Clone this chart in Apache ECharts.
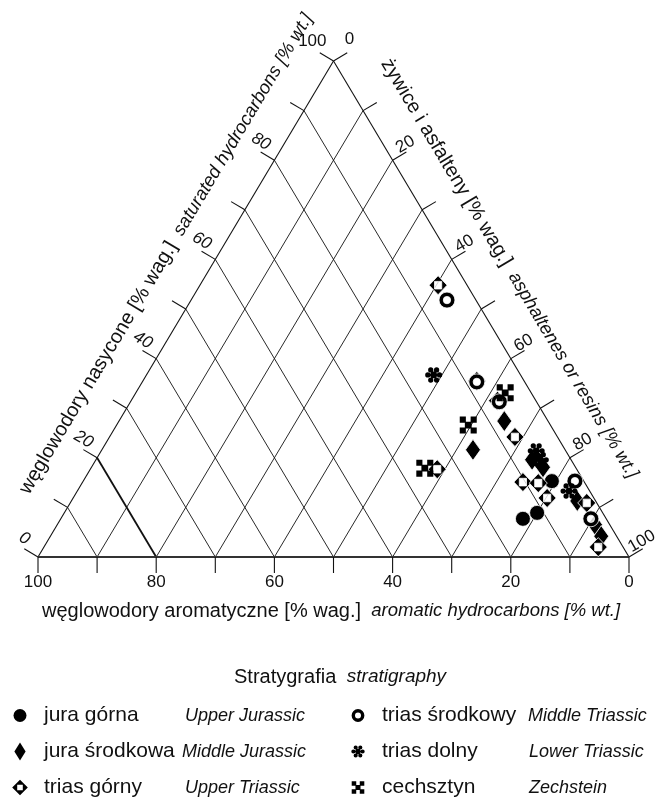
<!DOCTYPE html>
<html><head><meta charset="utf-8">
<script src="https://cdn.jsdelivr.net/npm/echarts@6.0.0/dist/echarts.min.js"></script>
<style>html,body{margin:0;padding:0;background:#fff;}#chart{width:655px;height:807px;}</style>
</head><body><div id="chart"></div>
<script>
// ---- data: each point = [aromatic, saturated, asphaltenes/resins] in % wt.
const juraGorna = [[14.1, 7.7, 78.2], [11.1, 8.9, 80.0], [5.4, 15.3, 79.3]];
const juraSrodkowa = [[7.4, 27.4, 65.2], [15.6, 21.6, 62.8], [6.6, 19.6, 73.8], [5.5, 18.1, 76.4], [3.1, 11.3, 85.6], [2.5, 6.5, 91.0], [2.6, 4.2, 93.2]];
const triasGorny = [[4.9, 54.8, 40.3], [8.0, 35.5, 56.5], [6.5, 31.5, 62.0], [7.2, 24.2, 68.6], [23.6, 17.7, 58.7], [10.4, 15.1, 74.5], [7.9, 14.9, 77.2], [7.9, 11.9, 80.2], [1.7, 10.9, 87.4], [4.2, 2.0, 93.8]];
const triasSrodkowy = [[4.9, 51.8, 43.3], [8.1, 35.3, 56.6], [6.3, 31.3, 62.4], [1.5, 15.3, 83.2], [2.6, 7.7, 89.7]];
const triasDolny = [[14.7, 36.7, 48.6], [5.0, 21.4, 73.6], [5.2, 19.6, 75.2], [3.5, 13.3, 83.2]];
const cechsztyn = [[4.4, 33.1, 62.5], [13.9, 26.6, 59.5], [25.6, 17.9, 56.5]];

const tickValues = [0, 10, 20, 30, 40, 50, 60, 70, 80, 90, 100];
const labelValues = [0, 20, 40, 60, 80, 100];
const gridValues = [10, 20, 30, 40, 50, 60, 70, 80, 90];

const legendLeftNames = ['jura górna', 'jura środkowa', 'trias górny'];
const legendRightNames = ['trias środkowy', 'trias dolny', 'cechsztyn'];
const english = {
  'jura górna': 'Upper Jurassic', 'jura środkowa': 'Middle Jurassic', 'trias górny': 'Upper Triassic',
  'trias środkowy': 'Middle Triassic', 'trias dolny': 'Lower Triassic', 'cechsztyn': 'Zechstein'
};

const FONT = '"Liberation Sans", Arial, Helvetica, sans-serif';
const INK = '#111';

// ternary -> cartesian (x: 0 at aromatic apex, 100 at resins apex; y: saturated)
function toXY(p) { return [p[2] + p[1] / 2, p[1], p[0], p[1], p[2]]; }

// ---- symbol shapes
function f2(v) { return +v.toFixed(2); }
function circ(cx, cy, r, sw) {
  cx = f2(cx); cy = f2(cy);
  return `M${f2(cx - r)} ${cy} A${r} ${r} 0 1 ${sw} ${f2(cx + r)} ${cy} A${r} ${r} 0 1 ${sw} ${f2(cx - r)} ${cy} Z `;
}
function rectP(x0, y0, x1, y1) { return `M${x0} ${y0} L${x1} ${y0} L${x1} ${y1} L${x0} ${y1} Z `; }
function ringPath(c, R, r) { return circ(c, c, R, 1) + circ(c, c, r, 0); }
function openDiamondPath(c, R, s) {
  return `M${c} ${c - R} L${c + R} ${c} L${c} ${c + R} L${c - R} ${c} Z ` +
         `M${c - s} ${c - s} L${c - s} ${c + s} L${c + s} ${c + s} L${c + s} ${c - s} Z `;
}
function asteriskPath(c, R) {
  // heavy asterisk: six rounded lobes joined by a centre disc (same winding -> union)
  let d = circ(c, c, f2(0.4 * R), 1);
  for (let k = 0; k < 6; k++) {
    const t = k * Math.PI / 3;
    d += circ(c + Math.cos(t) * 0.69 * R, c + Math.sin(t) * 0.69 * R, f2(0.31 * R), 1);
  }
  return d;
}
function checkerPath(c, R) {
  const a = c - R, b = c + R, k = 0.72 * R, m = 0.4 * R;
  return rectP(a, a, a + k, a + k) + rectP(b - k, a, b, a + k) + rectP(a, b - k, a + k, b) +
         rectP(b - k, b - k, b, b) + rectP(c - m, c - m, c + m, c + m);
}
const SYM = {
  ring: 'path://' + ringPath(50, 50, 23),
  openDiamond: 'path://' + openDiamondPath(50, 50, 20),
  asterisk: 'path://' + asteriskPath(50, 50),
  checker: 'path://' + checkerPath(50, 50)
};
const PAD = 'M0 0 M180 180 ';
const legendIcons = {
  'jura górna': 'path://' + PAD + circ(90, 90, 65, 1),
  'jura środkowa': 'path://' + PAD + 'M90 0 L146 90 L90 180 L34 90 Z',
  'trias górny': 'path://' + PAD + openDiamondPath(90, 78, 28),
  'trias środkowy': 'path://' + PAD + ringPath(90, 64, 30),
  'trias dolny': 'path://' + PAD + asteriskPath(90, 67),
  'cechsztyn': 'path://' + PAD + checkerPath(90, 63)
};

// ---- frame: triangle, grid, ticks, labels, axis titles
function renderFrame(params, api) {
  const P = (a, s, r) => api.coord([r + s / 2, s]);
  const Lp = P(100, 0, 0), Tp = P(0, 100, 0), Rp = P(0, 0, 100);
  const unit = (p, q) => { const dx = q[0] - p[0], dy = q[1] - p[1], l = Math.hypot(dx, dy); return [dx / l, dy / l]; };
  const dL = unit(Lp, Tp), nL = [dL[1], -dL[0]];
  const dR = unit(Tp, Rp), nR = [dR[1], -dR[0]];
  const add = (p, v, k) => [p[0] + v[0] * k, p[1] + v[1] * k];
  const kids = [];
  const seg = (p, q, w, c) => kids.push({ type: 'line', shape: { x1: p[0], y1: p[1], x2: q[0], y2: q[1] }, style: { stroke: c || INK, lineWidth: w || 1 } });
  const txt = (p, text, opt) => kids.push({ type: 'text', x: p[0], y: p[1], rotation: opt.rot || 0,
    style: Object.assign({ text: text, fill: INK, fontFamily: FONT, fontSize: 17, align: 'center', verticalAlign: 'middle' }, opt.style || {}) });

  gridValues.forEach(v => {
    seg(P(v, 0, 100 - v), P(v, 100 - v, 0), v === 80 ? 1.8 : 0.9);
    seg(P(100 - v, 0, v), P(0, 100 - v, v), 0.9);
  });
  seg(Lp, Tp, 1.1); seg(Tp, Rp, 1.1); seg(Lp, Rp, 1.8, '#333');
  const TICK = 16;
  tickValues.forEach(v => {
    const b = P(v, 0, 100 - v); seg(b, [b[0], b[1] + TICK], 1.1);
    const l = P(100 - v, v, 0); seg(l, add(l, nL, TICK), 1.1);
    const r = P(0, 100 - v, v); seg(r, add(r, nR, TICK), 1.1);
  });
  labelValues.forEach(v => {
    const b = P(v, 0, 100 - v); txt([b[0], b[1] + 25], String(v), {});
    const l = P(100 - v, v, 0);
    if (v === 100) txt([l[0] - 7, l[1] - 20], '100', { style: { align: 'right' } });
    else txt(add(add(l, nL, 21), dL, 9), String(v), { rot: -Math.PI / 6, style: { fontStyle: 'italic' } });
    const r = P(0, 100 - v, v);
    if (v === 0) txt([r[0] + 16, r[1] - 22], '0', {});
    else txt(add(add(r, nR, 19), dR, -7), String(v), { rot: Math.PI / 6 });
  });
  const rich = {
    a: { fontSize: 20, fontFamily: FONT, fill: INK },
    b: { fontSize: 18.5, fontFamily: FONT, fontStyle: 'italic', fill: INK }
  };
  const angL = Math.atan2(-(Tp[1] - Lp[1]), Tp[0] - Lp[0]);
  const angR = Math.atan2(-(Rp[1] - Tp[1]), Rp[0] - Tp[0]);
  const ancL = add([Lp[0] + (Tp[0] - Lp[0]) * 0.565, Lp[1] + (Tp[1] - Lp[1]) * 0.565], nL, 45);
  const ancR = add([Tp[0] + (Rp[0] - Tp[0]) * 0.465, Tp[1] + (Rp[1] - Tp[1]) * 0.465], nR, 45);
  txt(ancL, '{a|węglowodory nasycone [% wag.]}{b|  saturated hydrocarbons [% wt.]}', { rot: angL, style: { rich } });
  txt(ancR, '{a|żywice i asfalteny [% wag.]}{b|  asphaltenes or resins [% wt.]}', { rot: angR, style: { rich } });
  txt([Lp[0] + 4, Lp[1] + 54], '{a|węglowodory aromatyczne [% wag.]}{b|  aromatic hydrocarbons [% wt.]}', { style: { align: 'left', rich } });
  return { type: 'group', children: kids };
}

function scatter(name, data, symbol, size, extra, halo) {
  return Object.assign({
    name, type: 'scatter', data: data.map(toXY), symbol, symbolSize: size, z: 3,
    itemStyle: { color: '#000', borderColor: '#fff', borderWidth: halo ? 0.8 : 0, opacity: 1 },
    emphasis: { disabled: true }
  }, extra || {});
}
function underlay(data, symbol, size) {
  return { type: 'scatter', data: data.map(toXY), symbol, symbolSize: size, z: 3, silent: true,
    itemStyle: { color: '#fff' }, emphasis: { disabled: true } };
}

const widths = { 'jura górna': 141, 'jura środkowa': 138, 'trias górny': 141, 'trias środkowy': 146, 'trias dolny': 147, 'cechsztyn': 147 };
function makeLegend(names, left) {
  const rich = {};
  names.forEach((n, i) => { rich['p' + i] = { fontSize: 21, fontFamily: FONT, color: INK, width: widths[n], lineHeight: 22 }; });
  rich.en = { fontSize: 18, fontFamily: FONT, fontStyle: 'italic', color: INK, lineHeight: 22 };
  return {
    orient: 'vertical', left: left, top: 705, padding: 0, itemGap: 15, itemWidth: 38, itemHeight: 18,
    selectedMode: false, symbolKeepAspect: true,
    itemStyle: { borderWidth: 0, color: '#000' },
    data: names.map(n => ({ name: n, icon: legendIcons[n] })),
    formatter: n => `{p${names.indexOf(n)}|${n}}{en|${english[n]}}`,
    textStyle: { rich }
  };
}

const chart = echarts.init(document.getElementById('chart'), null, { renderer: 'canvas' });
chart.setOption({
  animation: false,
  backgroundColor: '#fff',
  title: {
    text: '{a|Stratygrafia}{b|  stratigraphy}', left: 234, top: 667, padding: 0,
    textStyle: { fontWeight: 'normal', rich: {
      a: { fontSize: 20, fontFamily: FONT, color: INK, fontWeight: 'normal' },
      b: { fontSize: 19, fontFamily: FONT, fontStyle: 'italic', fontWeight: 'normal', color: INK } } }
  },
  legend: [makeLegend(legendLeftNames, 11), makeLegend(legendRightNames, 349)],
  grid: { left: 38, right: 26, top: 61, bottom: 250 },
  xAxis: { type: 'value', min: 0, max: 100, show: false },
  yAxis: { type: 'value', min: 0, max: 100, show: false },
  series: [
    { type: 'custom', renderItem: renderFrame, data: [[50, 50]], z: 1, silent: true },
    scatter('jura górna', juraGorna, 'circle', 15, null, true),
    scatter('jura środkowa', juraSrodkowa, 'diamond', [15, 21], null, true),
    underlay(triasGorny, 'rect', 8),
    scatter('trias górny', triasGorny, SYM.openDiamond, [18, 19], null, true),
    underlay(triasSrodkowy, 'circle', 9),
    scatter('trias środkowy', triasSrodkowy, SYM.ring, 16, null, true),
    scatter('trias dolny', triasDolny, SYM.asterisk, 17, { symbolKeepAspect: true }),
    scatter('cechsztyn', cechsztyn, SYM.checker, 17)
  ]
});
</script></body></html>
